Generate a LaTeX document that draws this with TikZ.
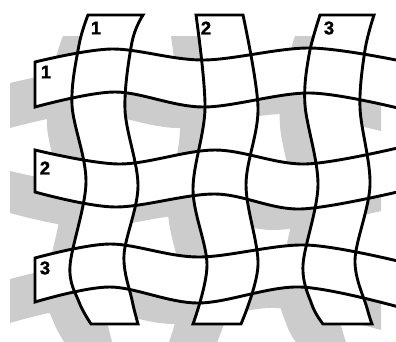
\documentclass[tikz,border=0pt]{standalone}
\usepackage{fontspec}
\setmainfont{Liberation Sans}
\newfontfamily\labelfont{Liberation Sans Bold}[FakeBold=1.2]
\definecolor{shade}{HTML}{CCCCCC}
\newcommand\weavestrips[1]{%
  % vertical strip 1
  \path[#1] plot[smooth,tension=0.55] coordinates {(88,15) (79,45) (72,105) (86,182) (70,266) (79,302) (91,324)}
    -- plot[smooth,tension=0.55] coordinates {(138,324) (132,300) (124,255) (138,186) (125,110) (132,42) (143,15)} -- cycle;
  % vertical strip 2
  \path[#1] plot[smooth,tension=0.55] coordinates {(196,15) (205,108) (193,190) (207,265) (193,324)}
    -- plot[smooth,tension=0.55] coordinates {(241,324) (258,265) (246,185) (258,108) (243,15)} -- cycle;
  % vertical strip 3
  \path[#1] plot[smooth,tension=0.55] coordinates {(320,15) (309,55) (305,105) (318,185) (303,265) (312,305) (323,324)}
    -- plot[smooth,tension=0.55] coordinates {(372,324) (367,308) (355,260) (370,185) (360,108) (365,50) (374,15)} -- cycle;
  % horizontal strip 1
  \path[#1] plot[smooth,tension=0.55] coordinates {(35,62) (112,49) (203,60) (310,48) (406,62)}
    -- plot[smooth,tension=0.55] coordinates {(406,110) (310,93) (203,107) (115,92) (35,107)} -- cycle;
  % horizontal strip 2
  \path[#1] plot[smooth,tension=0.55] coordinates {(35,150) (120,164) (215,150) (305,164) (406,146)}
    -- plot[smooth,tension=0.55] coordinates {(406,190) (300,209) (215,194) (115,207) (35,192)} -- cycle;
  % horizontal strip 3
  \path[#1] plot[smooth,tension=0.55] coordinates {(35,258) (110,244) (198,257) (306,245) (406,263)}
    -- plot[smooth,tension=0.55] coordinates {(406,309) (300,287) (198,303) (110,287) (35,302)} -- cycle;
}
\tikzset{
  shadowstyle/.style={fill=shade, shift={(-25,21)}},
  paperstyle/.style={fill=white},
  edgestyle/.style={draw=black, line width=2.9pt, line join=miter},
  numlabel/.style={inner sep=0pt, font=\labelfont\fontsize{18.5}{18.5}\selectfont}
}
\begin{document}
\begin{tikzpicture}[x=1pt,y=-1pt]
\useasboundingbox (0,0) rectangle (396,341);
\clip (0,0) rectangle (396,341);
\weavestrips{shadowstyle}
\weavestrips{paperstyle}
\weavestrips{edgestyle}
\node[numlabel] (v1) at (96,28) {1};
\node[numlabel] (v2) at (206,28) {2};
\node[numlabel] (v3) at (329,28) {3};
\node[numlabel] (h1) at (46,72) {1};
\node[numlabel] (h2) at (45,168) {2};
\node[numlabel] (h3) at (45,268) {3};
\end{tikzpicture}
\end{document}
